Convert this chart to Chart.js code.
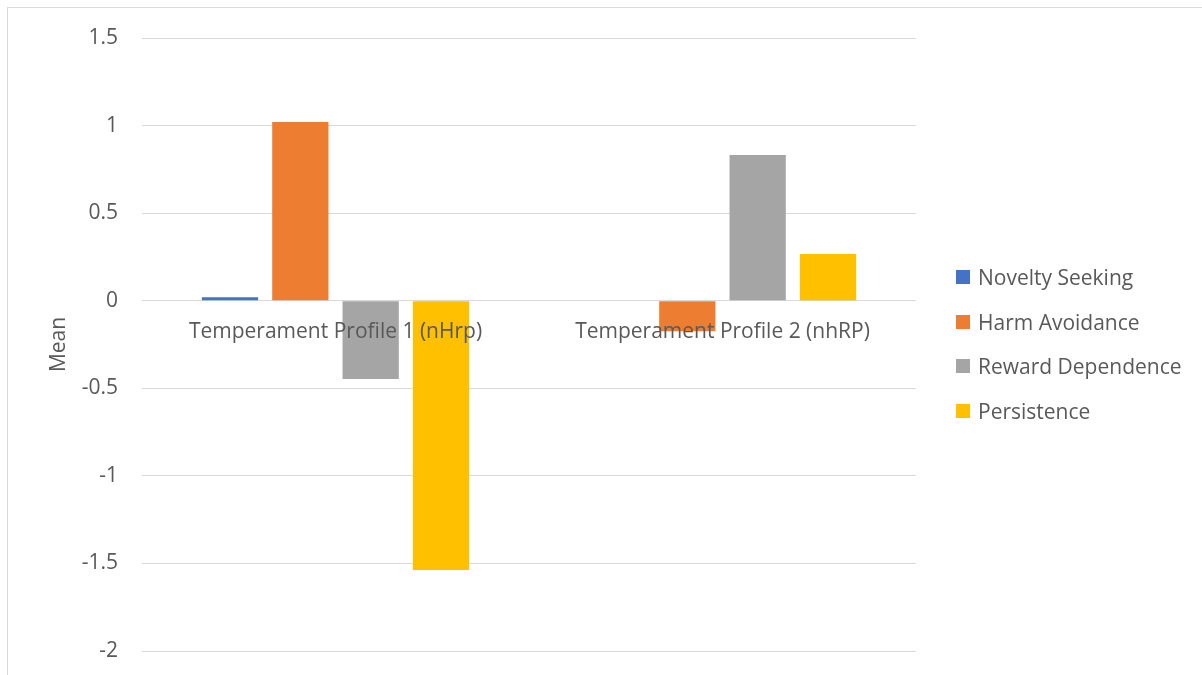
<!DOCTYPE html>
<html>
<head>
<meta charset="utf-8">
<title>Temperament profiles</title>
<script src="https://cdn.jsdelivr.net/npm/chart.js@4.4.1/dist/chart.umd.min.js"></script>
<style>
    html, body { margin: 0; padding: 0; background: #fff; overflow: hidden; }
    #wrap { position: relative; width: 1202px; height: 675px; }
    #frame { position: absolute; left: 7px; top: 7px; width: 1300px; height: 800px; border: 1px solid #d9d9d9; box-sizing: border-box; }
    #legend { position: absolute; left: 956px; top: 255px; margin: 0; padding: 0; list-style: none;
              font-family: "Open Sans", sans-serif; font-size: 21px; color: #595959; }
    #legend li { height: 44.6px; display: flex; align-items: center; white-space: nowrap; }
    #legend span.box { display: inline-block; width: 14px; height: 14px; margin-right: 8px; }
</style>
</head>
<body>
<div id="wrap">
    <div id="frame"></div>
    <canvas id="profileChart"></canvas>
    <ul id="legend"></ul>
</div>
<script>
// Profiles on the x axis
var profiles = ['Temperament Profile 1 (nHrp)', 'Temperament Profile 2 (nhRP)'];

// Mean score of each temperament dimension per profile
var noveltySeeking = [0.02, 0];
var harmAvoidance = [1.02, -0.175];
var rewardDependence = [-0.447, 0.832];
var persistence = [-1.537, 0.267];

// Y axis ticks
var yTicks = [-2, -1.5, -1, -0.5, 0, 0.5, 1, 1.5];

var textColor = '#595959';
var fontFamily = '"Open Sans", sans-serif';

// simple html legend next to the chart
var htmlLegend = {
    id: 'htmlLegend',
    afterUpdate: function(chart) {
        var ul = document.getElementById('legend');
        ul.innerHTML = '';
        chart.data.datasets.forEach(function(ds) {
            var li = document.createElement('li');
            var box = document.createElement('span');
            box.className = 'box';
            box.style.background = ds.backgroundColor;
            li.appendChild(box);
            li.appendChild(document.createTextNode(ds.label));
            ul.appendChild(li);
        });
    }
};

var ctx = document.getElementById('profileChart').getContext('2d');
var profileChart = new Chart(ctx, {
    type: 'bar',
    data: {
        labels: profiles,
        datasets: [
            { label: 'Novelty Seeking', backgroundColor: '#4472C4', data: noveltySeeking },
            { label: 'Harm Avoidance', backgroundColor: '#ED7D31', data: harmAvoidance },
            { label: 'Reward Dependence', backgroundColor: '#A5A5A5', data: rewardDependence },
            { label: 'Persistence', backgroundColor: '#FFC000', data: persistence }
        ]
    },
    options: {
        responsive: true,
        maintainAspectRatio: false,
        animation: false,
        categoryPercentage: 0.727,
        barPercentage: 0.8,
        layout: {
            padding: { left: 0, right: 286, top: 38, bottom: 24 }
        },
        plugins: {
            legend: { display: false },
            tooltip: { enabled: false }
        },
        scales: {
            x: {
                position: { y: 0 },
                grid: { display: false, drawTicks: false },
                border: { display: false },
                ticks: {
                    z: 1, // category labels sit on top of the bars
                    color: textColor,
                    font: { family: fontFamily, size: 21 },
                    padding: 19,
                    maxRotation: 0,
                    autoSkip: false
                }
            },
            y: {
                min: yTicks[0],
                max: yTicks[yTicks.length - 1],
                afterFit: function(scale) {
                    scale.width = 142;
                    // the tick padding should not eat into the plot height
                    scale.paddingTop = 0;
                    scale.paddingBottom = 0;
                },
                afterBuildTicks: function(scale) {
                    scale.ticks = yTicks.map(function(v) { return { value: v }; });
                },
                grid: { color: '#d9d9d9', lineWidth: 1, drawTicks: false },
                border: { display: false },
                ticks: {
                    color: textColor,
                    font: { family: fontFamily, size: 21 },
                    padding: 24,
                    callback: function(v) { return String(v); }
                },
                title: {
                    display: true,
                    text: 'Mean',
                    color: textColor,
                    font: { family: fontFamily, size: 21 },
                    padding: { top: 46, bottom: 0 }
                }
            }
        }
    },
    plugins: [htmlLegend]
});
</script>
</body>
</html>
